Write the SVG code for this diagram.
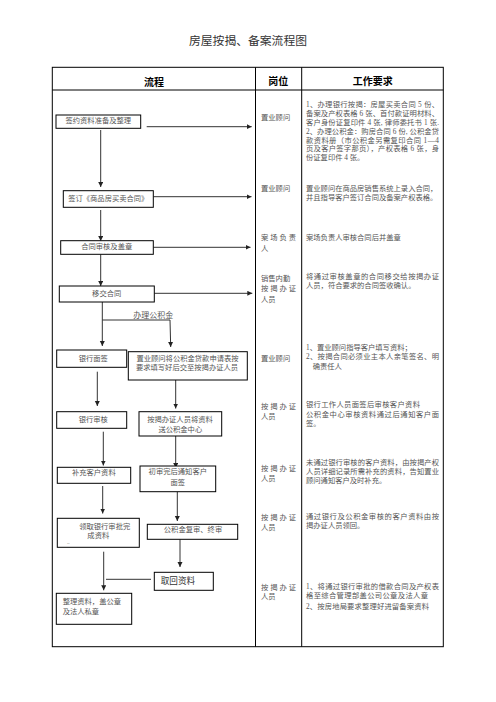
<svg xmlns="http://www.w3.org/2000/svg" width="496" height="702" viewBox="0 0 496 702">
<defs>
<marker id="ah" markerUnits="userSpaceOnUse" markerWidth="6" markerHeight="6" refX="5" refY="2.5" orient="auto"><path d="M0,0 L5,2.5 L0,5 z" fill="#222"/></marker>
<style>
.t{font-family:"Liberation Serif","Noto Sans CJK SC",serif;font-size:7.3px;fill:#555}
.m{text-anchor:middle}
.h{font-family:"Liberation Sans","Noto Sans CJK SC",sans-serif;font-weight:bold;font-size:10px;fill:#000;text-anchor:middle}
.box{fill:#fff;stroke:#000;stroke-width:1}
.c{stroke:#333;stroke-width:1;fill:none}
.a{marker-end:url(#ah)}
.tl{stroke:#000;stroke-width:1;fill:none}
</style>
</defs>
<rect width="496" height="702" fill="#fff"/>
<text x="248" y="44.5" text-anchor="middle" style="font-family:'Liberation Sans','Noto Sans CJK SC',sans-serif;font-size:11.8px;fill:#333">房屋按揭、备案流程图</text>

<g id="table">
<rect class="tl" x="52.3" y="67.3" width="391" height="579.4" stroke-width="1.2"/>
<line class="tl" x1="52.3" y1="90" x2="443.3" y2="90"/>
<line class="tl" x1="255.5" y1="67.3" x2="255.5" y2="646.7"/>
<line class="tl" x1="301.7" y1="67.3" x2="301.7" y2="646.7"/>
<text class="h" x="154" y="86">流程</text>
<text class="h" x="278.3" y="85">岗位</text>
<text class="h" x="372.7" y="85">工作要求</text>
</g>

<g id="connectors">
<line class="c a" x1="146.7" y1="126.7" x2="251.7" y2="126.7"/>
<line class="c a" x1="100.7" y1="130" x2="100.7" y2="187"/>
<line class="c a" x1="153.3" y1="196.7" x2="251.5" y2="196.7"/>
<line class="c a" x1="100.7" y1="210" x2="100.7" y2="241"/>
<line class="c a" x1="153.3" y1="247.3" x2="250.5" y2="247.3"/>
<line class="c a" x1="100.7" y1="254.3" x2="100.7" y2="286"/>
<line class="c a" x1="154.3" y1="293.3" x2="252.3" y2="293.3"/>
<line class="c a" x1="102.3" y1="302" x2="102.3" y2="346"/>
<polyline class="c a" points="102.3,320 170,320 170.7,347"/>
<line class="c a" x1="97.3" y1="371.7" x2="97.3" y2="406"/>
<line class="c a" x1="175.7" y1="380" x2="175.7" y2="408.5"/>
<line class="c a" x1="103.3" y1="431.7" x2="103.3" y2="465.5"/>
<line class="c a" x1="175.7" y1="436" x2="175.7" y2="468"/>
<line class="c a" x1="102.7" y1="486" x2="102.7" y2="513.5"/>
<line class="c a" x1="177.3" y1="491.7" x2="177.3" y2="521"/>
<line class="c a" x1="180" y1="539.3" x2="180" y2="567"/>
<line class="c a" x1="103.7" y1="551.7" x2="103.7" y2="590.3"/>
<line class="c" x1="151" y1="579.3" x2="106" y2="579.3"/>
</g>

<g id="n1"><rect class="box" x="56" y="115" width="84.7" height="13.3"/><text class="t m" x="98.3" y="122.9">签约资料准备及整理</text></g>
<g id="n2"><rect class="box" x="63.3" y="190.7" width="90" height="16.6"/><text class="t m" x="108.3" y="201.1">签订《商品房买卖合同》</text></g>
<g id="n3"><rect class="box" x="60.7" y="240.7" width="92.6" height="13.6"/><text class="t m" x="106.7" y="248.5">合同审核及盖章</text></g>
<g id="n4"><rect class="box" x="59.3" y="286" width="95" height="16"/><text class="t m" x="106.7" y="296.1">移交合同</text></g>
<g id="lbl"><text class="t m" x="153.3" y="318" style="font-size:8px">办理公积金</text></g>
<g id="n5"><rect class="box" x="56.7" y="350" width="70" height="17.3"/><text class="t m" x="93.3" y="361.1">银行面签</text></g>
<g id="n6"><rect class="box" x="128.3" y="351.7" width="119" height="28.3"/><text class="t m" x="187.5" y="361.1">置业顾问将公积金贷款申请表按</text><text class="t m" x="187" y="370">要求填写好后交至按揭办证人员</text></g>
<g id="n7"><rect class="box" x="56.7" y="411.7" width="70" height="16.6"/><text class="t m" x="93.3" y="422.1">银行审核</text></g>
<g id="n8"><rect class="box" x="139" y="411.7" width="82.7" height="24.3"/><text class="t m" x="180" y="422.1">按揭办证人员将资料</text><text class="t m" x="180.3" y="432.1">送公积金中心</text></g>
<g id="n9"><rect class="box" x="57.3" y="467.3" width="73.4" height="16"/><text class="t m" x="93.8" y="475.1">补充客户资料</text></g>
<g id="n10"><rect class="box" x="140" y="466" width="75.7" height="25.7"/><text class="t m" x="177.8" y="473.5">初审完后通知客户</text><text class="t m" x="177.7" y="484.5">面签</text></g>
<g id="n11"><rect class="box" x="57.3" y="518.3" width="82" height="29"/><text class="t m" x="104.7" y="528.5">领取银行审批完</text><text class="t m" x="98.3" y="537.8">成资料</text><text class="t m" x="68.3" y="544.5" style="font-size:4px">--</text></g>
<g id="n12"><rect class="box" x="147.3" y="524.3" width="90.4" height="15"/><text class="t m" x="193" y="532.3">公积金复审、终审</text></g>
<g id="n13"><rect class="box" x="154.3" y="572.3" width="59" height="18"/><text class="t" x="160.7" y="584.3" style="font-size:8.6px;fill:#333">取回资料</text></g>
<g id="n14"><rect class="box" x="56.3" y="593.3" width="75.4" height="31"/><text class="t" x="62.7" y="603.8">整理资料，盖公章</text><text class="t" x="62.7" y="613.5">及法人私章</text></g>

<g id="roles">
<text class="t" x="261" y="119.5">置业顾问</text>
<text class="t" x="261" y="190.5">置业顾问</text>
<text class="t" x="261" y="239.5" textLength="35" lengthAdjust="spacing">案场负责</text>
<text class="t" x="261" y="251.1">人</text>
<text class="t" x="261" y="280.5">销售内勤</text>
<text class="t" x="261" y="291.1" textLength="35" lengthAdjust="spacing">按揭办证</text>
<text class="t" x="261" y="301.8">人员</text>
<text class="t" x="261" y="361.1">置业顾问</text>
<text class="t" x="261" y="408.8" textLength="35" lengthAdjust="spacing">按揭办证</text>
<text class="t" x="261" y="418.8">人员</text>
<text class="t" x="261" y="470.5" textLength="35" lengthAdjust="spacing">按揭办证</text>
<text class="t" x="261" y="480.5">人员</text>
<text class="t" x="261" y="519.5" textLength="35" lengthAdjust="spacing">按揭办证</text>
<text class="t" x="261" y="529.5">人员</text>
<text class="t" x="261" y="589.5" textLength="35" lengthAdjust="spacing">按揭办证</text>
<text class="t" x="261" y="598.8">人员</text>
</g>

<g id="requirements">
<text class="t" x="306" y="107.1" textLength="133" lengthAdjust="spacing">1、办理银行按揭：房屋买卖合同 5 份、</text>
<text class="t" x="306" y="116.1" textLength="133" lengthAdjust="spacing">备案及产权表格 6 张、首付款证明材料、</text>
<text class="t" x="306" y="124.8" textLength="133" lengthAdjust="spacing">客户身份证复印件 4 张, 律师委托书 1 张.</text>
<text class="t" x="306" y="133.8" textLength="133" lengthAdjust="spacing">2、办理公积金：购房合同 6 份, 公积金贷</text>
<text class="t" x="306" y="142.5" textLength="133" lengthAdjust="spacing">款资料册（市公积金另需复印合同  1—4</text>
<text class="t" x="306" y="151.1" textLength="133" lengthAdjust="spacing">页及客户签字那页），产权表格 6 张，身</text>
<text class="t" x="306" y="160.1">份证复印件 4 张。</text>
<text class="t" x="306" y="190.5">置业顾问在商品房销售系统上录入合同，</text>
<text class="t" x="306" y="199.5">并且指导客户签订合同及备案产权表格。</text>
<text class="t" x="306" y="239.5">案场负责人审核合同后并盖章</text>
<text class="t" x="306" y="278.5" textLength="133" lengthAdjust="spacing">将通过审核盖章的合同移交给按揭办证</text>
<text class="t" x="306" y="287.5">人员，符合要求的合同签收确认。</text>
<text class="t" x="306" y="349.5">1、置业顾问指导客户填写资料；</text>
<text class="t" x="306" y="358.8" textLength="133" lengthAdjust="spacing">2、按揭合同必须业主本人亲笔签名、明</text>
<text class="t" x="312.7" y="368.5">确责任人</text>
<text class="t" x="306" y="407.1" textLength="114" lengthAdjust="spacing">银行工作人员面签后审核客户资料</text>
<text class="t" x="306" y="416.5" textLength="133" lengthAdjust="spacing">公积金中心审核资料通过后通知客户面</text>
<text class="t" x="306" y="425.5">签。</text>
<text class="t" x="306" y="464.5" textLength="133" lengthAdjust="spacing">未通过银行审核的客户资料，由按揭产权</text>
<text class="t" x="306" y="473.5" textLength="133" lengthAdjust="spacing">人员详细记录所需补充的资料，告知置业</text>
<text class="t" x="306" y="482.5">顾问通知客户及时补充。</text>
<text class="t" x="306" y="518.8" textLength="133" lengthAdjust="spacing">通过银行及公积金审核的客户资料由按</text>
<text class="t" x="306" y="527.8">揭办证人员领回。</text>
<text class="t" x="306" y="588.5" textLength="133" lengthAdjust="spacing">1、将通过银行审批的借款合同及产权表</text>
<text class="t" x="306" y="597.5" textLength="122" lengthAdjust="spacing">格至综合管理部盖公司公章及法人章</text>
<text class="t" x="306" y="608.5" textLength="123" lengthAdjust="spacing">2、按房地局要求整理好进留备案资料</text>
</g>
</svg>
